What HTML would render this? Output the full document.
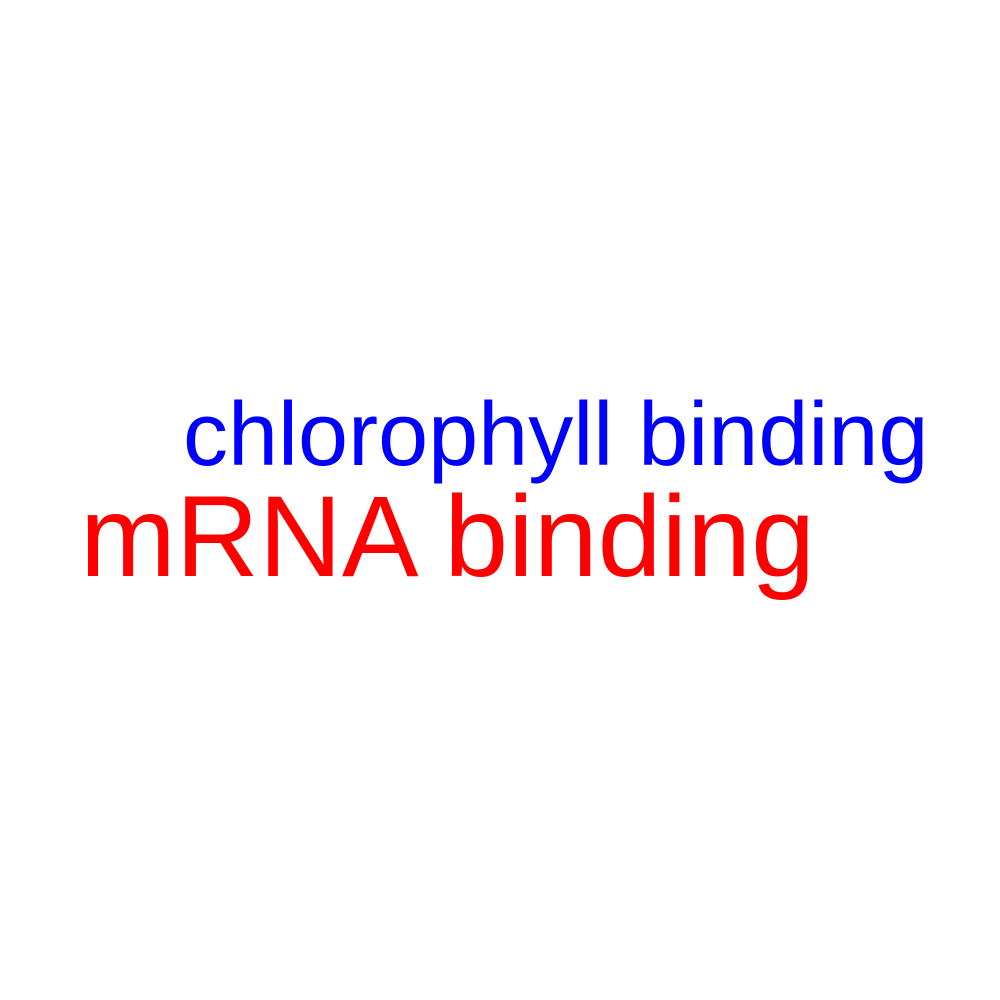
<!DOCTYPE html>
<html><head><meta charset="utf-8"><style>html,body{margin:0;padding:0;background:#fff;}svg{display:block}</style></head>
<body>
<svg width="1000" height="1000" font-family="'Liberation Sans', Arial, sans-serif">
<rect width="1000" height="1000" fill="#fff"/>
<text x="183" y="465" font-size="90" fill="#0000ff">chlorophyll binding</text>
<text x="80" y="576" font-size="115" fill="#ff0000">mRNA binding</text>
</svg>
</body></html>
